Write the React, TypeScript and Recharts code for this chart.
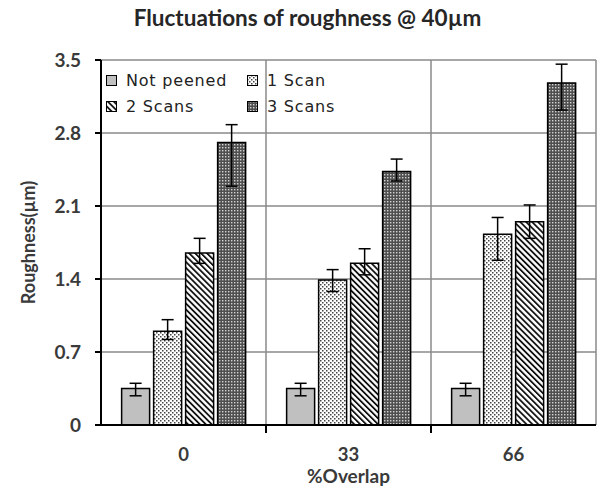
import { BarChart, Bar, XAxis, YAxis, CartesianGrid, ErrorBar, Label } from 'recharts';

// roughness per overlap level, one array per peening condition
const CATEGORIES = ['0', '33', '66'];
const NOT_PEENED = [0.35, 0.35, 0.35];
const ONE_SCAN = [0.9, 1.39, 1.83];
const TWO_SCANS = [1.65, 1.55, 1.95];
const THREE_SCANS = [2.71, 2.43, 3.28];

// error bars as [below, above]
const NOT_PEENED_ERR = [[0.07, 0.05], [0.07, 0.05], [0.07, 0.05]];
const ONE_SCAN_ERR = [[0.08, 0.11], [0.11, 0.1], [0.25, 0.16]];
const TWO_SCANS_ERR = [[0.1, 0.14], [0.11, 0.14], [0.16, 0.16]];
const THREE_SCANS_ERR = [[0.42, 0.17], [0.09, 0.12], [0.26, 0.18]];

const Y_TICKS = [0, 0.7, 1.4, 2.1, 2.8, 3.5];

const SERIES = [
  { key: 'notPeened', name: 'Not peened', values: NOT_PEENED, errors: NOT_PEENED_ERR, fill: '#c0c0c0' },
  { key: 'oneScan', name: '1 Scan', values: ONE_SCAN, errors: ONE_SCAN_ERR, fill: 'url(#dots)' },
  { key: 'twoScans', name: '2 Scans', values: TWO_SCANS, errors: TWO_SCANS_ERR, fill: 'url(#stripes)' },
  { key: 'threeScans', name: '3 Scans', values: THREE_SCANS, errors: THREE_SCANS_ERR, fill: 'url(#dense)' },
];

const data = CATEGORIES.map((overlap, i) => {
  const row: Record<string, unknown> = { overlap };
  for (const s of SERIES) {
    row[s.key] = s.values[i];
    row[s.key + 'Err'] = s.errors[i];
  }
  return row;
});

const WIDTH = 598;
const HEIGHT = 486;
const MARGIN = { top: 60, right: 2, bottom: 21, left: 41 };
const Y_AXIS_W = 60;
const X_AXIS_H = 40;
const PLOT_W = WIDTH - MARGIN.left - MARGIN.right - Y_AXIS_W;

const BOLD_FONT = 'Lato, "Open Sans", sans-serif';
const TEXT_COLOR = '#3a3a3a';

function OverlapTick(props: any) {
  const { x, y, payload, index } = props;
  const half = typeof payload?.offset === 'number' && payload.offset > 0 ? payload.offset : PLOT_W / CATEGORIES.length / 2;
  return (
    <g>
      <text x={x} y={y + 36} textAnchor="middle" fontFamily={BOLD_FONT} fontWeight={700} fontSize={18.5} fill={TEXT_COLOR}>
        {payload.value}
      </text>
      {index < CATEGORIES.length - 1 && (
        <line x1={x + half} x2={x + half} y1={y} y2={y + 8} stroke="#000" strokeWidth={2} />
      )}
    </g>
  );
}

// two-column key drawn over the top-left of the plot
function LegendBox() {
  return (
    <div
      style={{
        position: 'absolute',
        left: 106,
        top: 70,
        display: 'grid',
        gridTemplateColumns: '141px 120px',
        rowGap: 6,
        fontFamily: '"DejaVu Sans", sans-serif',
        fontSize: 16,
        letterSpacing: 0.8,
        color: '#222',
      }}
    >
      {SERIES.map((s) => (
        <div key={s.key} style={{ display: 'flex', alignItems: 'center', height: 20 }}>
          <svg width={11} height={11} style={{ marginRight: 9, flex: 'none' }}>
            <rect x={0.5} y={0.5} width={10} height={10} fill={s.fill} stroke="#000" strokeWidth={1} />
          </svg>
          <span>{s.name}</span>
        </div>
      ))}
    </div>
  );
}

export default function App() {
  return (
    <div style={{ position: 'absolute', left: 0, top: 0, width: WIDTH, height: HEIGHT, background: '#fff' }}>
      <div
        style={{
          position: 'absolute',
          left: 0,
          top: 4,
          width: 615,
          textAlign: 'center',
          fontFamily: BOLD_FONT,
          fontWeight: 700,
          fontSize: 22.5,
          color: '#262626',
        }}
      >
        Fluctuations of roughness @ 40µm
      </div>
      <BarChart width={WIDTH} height={HEIGHT} data={data} margin={MARGIN} barCategoryGap="12.5%" barGap={4}>
        <defs>
          <pattern id="dots" width={4} height={4} patternUnits="userSpaceOnUse">
            <rect width={4} height={4} fill="#fff" />
            <rect x={0} y={0} width={1.5} height={1.5} fill="#444" />
            <rect x={2} y={2} width={1.5} height={1.5} fill="#444" />
          </pattern>
          <pattern id="stripes" width={4.2} height={4.2} patternUnits="userSpaceOnUse" patternTransform="rotate(-45)">
            <rect width={4.2} height={4.2} fill="#fff" />
            <rect x={0} y={0} width={1.8} height={4.2} fill="#111" />
          </pattern>
          <pattern id="dense" width={3} height={3} patternUnits="userSpaceOnUse">
            <rect width={3} height={3} fill="#4f4f4f" />
            <rect x={0} y={0} width={1.4} height={1.4} fill="#d4d4d4" />
          </pattern>
        </defs>
        <CartesianGrid
          stroke="#8a8a8a"
          strokeWidth={1.5}
          verticalCoordinatesGenerator={({ offset }: any) => [
            offset.left + offset.width / 3,
            offset.left + (2 * offset.width) / 3,
            offset.left + offset.width,
          ]}
        />
        <XAxis
          dataKey="overlap"
          height={X_AXIS_H}
          axisLine={{ stroke: '#000', strokeWidth: 2 }}
          tickLine={false}
          tickSize={0}
          tickMargin={0}
          tick={<OverlapTick />}
          interval={0}
        >
          <Label
            content={({ viewBox }: any) => (
              <text
                x={viewBox.x + viewBox.width / 2}
                y={viewBox.y + 58}
                textAnchor="middle"
                fontFamily={BOLD_FONT}
                fontWeight={700}
                fontSize={19}
                fill={TEXT_COLOR}
              >
                %Overlap
              </text>
            )}
          />
        </XAxis>
        <YAxis
          width={Y_AXIS_W}
          domain={[0, 3.5]}
          ticks={Y_TICKS}
          interval={0}
          axisLine={{ stroke: '#000', strokeWidth: 2 }}
          tickLine={{ stroke: '#000', strokeWidth: 2 }}
          tickSize={6}
          tickMargin={14}
          tickFormatter={(v: number) => (v === 0 ? '0' : v.toFixed(1))}
          tick={{ fontFamily: BOLD_FONT, fontWeight: 700, fontSize: 19, fill: TEXT_COLOR }}
        >
          <Label
            content={({ viewBox }: any) => {
              const cx = viewBox.x - 13;
              const cy = viewBox.y + viewBox.height / 2;
              return (
                <text
                  x={cx}
                  y={cy}
                  transform={`rotate(-90, ${cx}, ${cy})`}
                  textAnchor="middle"
                  dominantBaseline="central"
                  fontFamily={BOLD_FONT}
                  fontWeight={700}
                  fontSize={18}
                  fill={TEXT_COLOR}
                >
                  Roughness(µm)
                </text>
              );
            }}
          />
        </YAxis>
        {SERIES.map((s) => (
          <Bar key={s.key} dataKey={s.key} name={s.name} fill={s.fill} stroke="#000" strokeWidth={1.5} isAnimationActive={false}>
            <ErrorBar dataKey={s.key + 'Err'} width={6} stroke="#000" strokeWidth={1.5} />
          </Bar>
        ))}
      </BarChart>
      <LegendBox />
    </div>
  );
}
